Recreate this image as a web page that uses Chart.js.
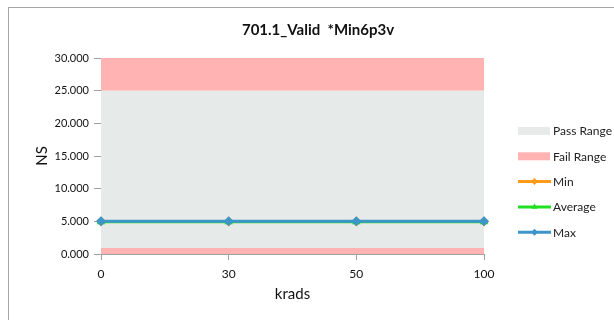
<!DOCTYPE html>
<html>
<head>
    <meta charset="UTF-8">
    <title>701.1_Valid *Min6p3v</title>
    <script src="https://cdn.jsdelivr.net/npm/chart.js"></script>
    <style>
        body { margin: 0; background: #fff; overflow: hidden; }
        #frame { position: absolute; left: 8px; top: 7px; width: 640px; height: 330px; border: 1px solid #a6a6a6; }
        #wrap { position: absolute; left: 0; top: 0; width: 614px; height: 320px; }
    </style>
</head>
<body>
    <div id="frame"></div>
    <div id="wrap"><canvas id="radChart" width="614" height="320"></canvas></div>

    <script>
        // dose steps (krads) and measured values (ns)
        var krads = ['0', '30', '50', '100'];
        var minVals = [4.97, 4.97, 4.97, 4.97];
        var avgVals = [4.93, 4.93, 4.93, 4.93];
        var maxVals = [5.0, 5.0, 5.0, 5.0];

        // limit bands
        var failLow = [0.9, 0.9, 0.9, 0.9];
        var passHigh = [25, 25, 25, 25];
        var failHigh = [30, 30, 30, 30];

        var yTicks = [0, 5, 10, 15, 20, 25, 30];

        var FONT = 'Lato, "Open Sans", sans-serif';
        var PASS = '#e6ebea';
        var FAIL = '#ffb3b3';
        var ORANGE = '#ff9a1a';
        var GREEN = '#22e022';
        var BLUE = '#3d95c8';

        var legendItems = [
            { text: 'Pass Range', box: PASS },
            { text: 'Fail Range', box: FAIL },
            { text: 'Min', line: ORANGE, marker: 'rectRot' },
            { text: 'Average', line: GREEN, marker: 'triangle' },
            { text: 'Max', line: BLUE, marker: 'rectRot' }
        ];

        // legend drawn at the right of the plot
        var sideLegend = {
            id: 'sideLegend',
            afterDraw: function (chart) {
                var ctx = chart.ctx;
                ctx.save();
                ctx.font = '12px ' + FONT;
                ctx.textBaseline = 'middle';
                ctx.textAlign = 'left';
                for (var i = 0; i < legendItems.length; i++) {
                    var it = legendItems[i];
                    var y = 131 + i * 25.3;
                    if (it.box) {
                        ctx.fillStyle = it.box;
                        ctx.fillRect(518, y - 4, 32, 8);
                    } else {
                        ctx.strokeStyle = it.line;
                        ctx.lineWidth = 3;
                        ctx.beginPath();
                        ctx.moveTo(518, y);
                        ctx.lineTo(551, y);
                        ctx.stroke();
                        ctx.fillStyle = it.line;
                        Chart.helpers.drawPoint(ctx, { pointStyle: it.marker, radius: 3.5, borderWidth: 0 }, 534.5, y);
                    }
                    ctx.fillStyle = '#222';
                    ctx.fillText(it.text, 553, y + 0.5);
                }
                ctx.restore();
            }
        };

        function lineSet(label, data, color, style, order) {
            return {
                label: label,
                data: data,
                borderColor: color,
                backgroundColor: color,
                borderWidth: 3,
                pointStyle: style,
                pointRadius: 5,
                pointBorderWidth: 0,
                fill: false,
                order: order
            };
        }

        function bandSet(label, data, color, fill) {
            return {
                label: label,
                data: data,
                borderWidth: 0,
                borderColor: 'rgba(0,0,0,0)',
                backgroundColor: color,
                pointRadius: 0,
                fill: fill,
                order: 10
            };
        }

        var ctx = document.getElementById('radChart').getContext('2d');
        new Chart(ctx, {
            type: 'line',
            data: {
                labels: krads,
                datasets: [
                    lineSet('Max', maxVals, BLUE, 'rectRot', 1),
                    lineSet('Average', avgVals, GREEN, 'triangle', 2),
                    lineSet('Min', minVals, ORANGE, 'rectRot', 3),
                    bandSet('Fail Range', failLow, FAIL, 'origin'),
                    bandSet('Pass Range', passHigh, PASS, '-1'),
                    bandSet('Fail Range', failHigh, FAIL, '-1')
                ]
            },
            options: {
                responsive: false,
                animation: false,
                layout: { padding: { left: 22, right: 0, top: 0, bottom: 0 } },
                plugins: {
                    legend: { display: false },
                    tooltip: { enabled: false },
                    title: {
                        display: true,
                        text: '701.1_Valid  *Min6p3v',
                        color: '#111',
                        font: { family: FONT, size: 15, weight: 'bold' },
                        padding: { top: 21, bottom: 19 }
                    }
                },
                scales: {
                    x: {
                        type: 'category',
                        offset: false,
                        grid: { drawOnChartArea: false, drawTicks: true, tickLength: 6, color: '#a0a0a0' },
                        border: { color: '#a0a0a0' },
                        ticks: { color: '#111', padding: 7, maxRotation: 0, font: { family: FONT, size: 12 } },
                        title: {
                            display: true,
                            text: 'krads',
                            color: '#111',
                            font: { family: FONT, size: 15 },
                            padding: { top: 6, bottom: 17 }
                        },
                        afterFit: function (s) { s.height = 66; }
                    },
                    y: {
                        min: 0,
                        max: 30,
                        afterBuildTicks: function (s) { s.ticks = yTicks.map(function (v) { return { value: v }; }); },
                        grid: { drawOnChartArea: false, drawTicks: true, tickLength: 7, color: '#a0a0a0' },
                        border: { color: '#a0a0a0' },
                        ticks: {
                            color: '#111',
                            padding: 5,
                            font: { family: FONT, size: 11 },
                            callback: function (v) { return Number(v).toFixed(3); }
                        },
                        title: {
                            display: true,
                            text: 'NS',
                            color: '#111',
                            font: { family: FONT, size: 15 },
                            padding: { top: 11, bottom: 0 }
                        },
                        afterFit: function (s) { s.width = 79; }
                    },
                    // empty right-hand axis that reserves room for the legend
                    side: {
                        position: 'right',
                        display: true,
                        grid: { display: false, drawTicks: false },
                        border: { display: false },
                        ticks: { display: false },
                        afterFit: function (s) { s.width = 130; }
                    }
                }
            },
            plugins: [sideLegend]
        });
    </script>
</body>
</html>
